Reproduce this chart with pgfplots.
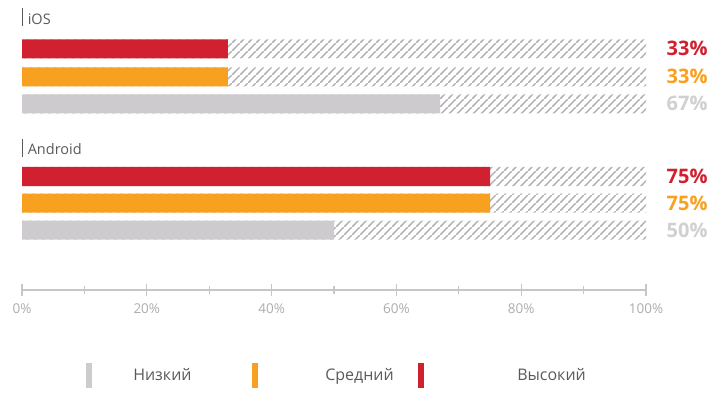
\documentclass[border=0pt]{standalone}
\usepackage{fontspec}
\setmainfont{Open Sans}
\usepackage{pgfplots}
\pgfplotsset{compat=1.18}
\usetikzlibrary{patterns.meta}

\definecolor{cRed}{HTML}{D1202F}
\definecolor{cOrange}{HTML}{F8A01F}
\definecolor{cGray}{HTML}{CDCBCE}
\definecolor{cHatch}{HTML}{B2B2B2}
\definecolor{cText}{HTML}{5A5A5A}
\definecolor{cTick}{HTML}{ADADAD}
\definecolor{cAxis}{HTML}{C6C6C6}
\definecolor{cValGray}{HTML}{D0D0D0}

\tikzdeclarepattern{
	name=wideslash,
	type=uncolored,
	bounding box={(0pt,0pt) and (8pt,8pt)},
	tile size={(8pt,8pt)},
	code={
		\pgfsetlinewidth{1.6pt}
		\pgfpathmoveto{\pgfpoint{-1pt}{-1pt}}
		\pgfpathlineto{\pgfpoint{9pt}{9pt}}
		\pgfusepath{stroke}
	}
}

% y positions are in pt from the x axis line
\begin{document}
\begin{tikzpicture}
	\begin{axis}[
		at={(22pt,0pt)}, anchor=south west,
		scale only axis,
		width=624pt, height=402pt,
		xmin=0, xmax=100,
		ymin=-112, ymax=290,
		clip=false,
		axis y line=none,
		axis x line*=middle,
		x axis line style={cAxis, line width=1.4pt},
		xtick={0,20,...,100},
		minor x tick num=1,
		tick align=center,
		major tick length=12pt,
		minor tick length=8pt,
		every tick/.style={cAxis, line width=1.1pt},
		xticklabel={\pgfmathprintnumber{\tick}\%},
		xticklabel style={text=cTick, font=\fontsize{13.5}{13.5}\selectfont, yshift=-4pt},
		/pgf/number format/assume math mode=true,
		legend cell align=left,
		legend columns=3,
		legend style={
			at={(axis cs:17.8,-85.5)}, anchor=west,
			draw=none, fill=none, inner sep=0pt,
			column sep=0pt,
			font=\fontsize{16}{16}\selectfont,
			text=cText,
			nodes={text width=192pt, inner xsep=0pt, align=left},
		},
	]
	% hatched background (100%)
	\addplot[xbar, bar shift=0pt, bar width=19pt, draw=none,
		pattern=wideslash, pattern color=cHatch, forget plot]
		coordinates {(100,241) (100,213) (100,186) (100,113.5) (100,87) (100,60)};

	\addplot[xbar, bar shift=0pt, bar width=19pt, draw=none, fill=cGray,
		legend image code/.code={\fill[overlay,cGray] (-47pt,-12.5pt) rectangle (-41pt,12.5pt);}]
		coordinates {(67,186) (50,60)};
	\addplot[xbar, bar shift=0pt, bar width=19pt, draw=none, fill=cOrange,
		legend image code/.code={\fill[overlay,cOrange] (-73pt,-12.5pt) rectangle (-67pt,12.5pt);}]
		coordinates {(33,213) (75,87)};
	\addplot[xbar, bar shift=0pt, bar width=19pt, draw=none, fill=cRed,
		legend image code/.code={\fill[overlay,cRed] (-99pt,-12.5pt) rectangle (-93pt,12.5pt);}]
		coordinates {(33,241) (75,113.5)};
	\legend{Низкий, Средний, Высокий}

	% group labels
	\draw[cText, line width=1pt] (axis cs:0.05,264) -- (axis cs:0.05,282);
	\node[anchor=base west, text=cText, font=\fontsize{14.5}{14.5}\selectfont, inner sep=0pt] at (axis cs:0.9,265.5) {iOS};
	\draw[cText, line width=1pt] (axis cs:0.05,133) -- (axis cs:0.05,151);
	\node[anchor=base west, text=cText, font=\fontsize{14.5}{14.5}\selectfont, inner sep=0pt] at (axis cs:0.9,135) {Android};

	% value labels
	\begin{scope}[every node/.style={anchor=base east, inner sep=0pt, font=\fontsize{20}{20}\selectfont\bfseries}]
	\node[text=cRed] at (axis cs:109.9,234) {33\%};
	\node[text=cOrange] at (axis cs:109.9,206) {33\%};
	\node[text=cValGray] at (axis cs:109.9,179) {67\%};
	\node[text=cRed] at (axis cs:109.9,106.5) {75\%};
	\node[text=cOrange] at (axis cs:109.9,80) {75\%};
	\node[text=cValGray] at (axis cs:109.9,53) {50\%};
	\end{scope}
	\end{axis}
	\pgfresetboundingbox
	\path[use as bounding box] (0,0) rectangle (719pt,402pt);
\end{tikzpicture}
\end{document}
